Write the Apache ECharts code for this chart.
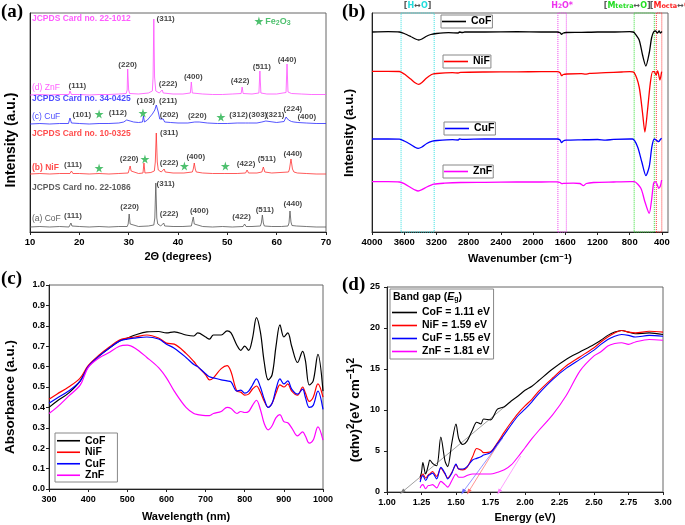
<!DOCTYPE html>
<html><head><meta charset="utf-8">
<script src="https://cdn.jsdelivr.net/npm/echarts@6/dist/echarts.min.js"></script>
<style>html,body{margin:0;padding:0;background:#fff}#main{width:685px;height:525px}</style>
</head><body><div id="main"></div>
<script>
const FONT = '"Liberation Sans", Arial, Helvetica, sans-serif';
const SERIF = '"Liberation Serif", "Times New Roman", serif';

// ---------- (a) XRD patterns: [2theta, intensity(arb)] ----------
const xrdCoF = [[10,5],[12,5.5],[14,5],[16,5.5],[17.9,5],[18.1,6],[18.3,9],[18.5,6],[18.7,5],[20,5.5],[22,5],[24,5.5],[26,5],[28,5.5],[29.7,5.5],[29.9,8],[30.1,18],[30.3,8],[30.5,6],[32,5.5],[34,6],[35.1,7],[35.3,14],[35.5,49],[35.7,14],[35.9,8],[36.5,6],[36.9,6],[37.1,9],[37.3,6],[39,5.5],[41,5.5],[42.7,6],[42.9,8],[43.1,15],[43.3,8],[43.5,6],[45,5.5],[47,5],[49,5.5],[51,5],[53.2,5.5],[53.5,8],[53.8,5.5],[55,5.5],[56.7,6],[56.9,9],[57.1,17],[57.3,9],[57.5,6],[59,5.5],[61,5.5],[62.3,6],[62.5,9],[62.7,21],[62.9,10],[63.1,6.5],[64,6],[66,5.5],[68,5],[70,5]];
const xrdNiF = [[10,58],[12,58.5],[14,58],[16,58.5],[18.1,58.5],[18.4,61],[18.7,58.5],[20,58.5],[22,58],[24,58.5],[26,58],[28,58.5],[29.9,59],[30.1,61],[30.3,66],[30.5,61],[30.7,59],[32,58.5],[32.9,59],[33.1,69],[33.3,59],[34.5,59.5],[35.2,61],[35.4,70],[35.6,99],[35.8,70],[36,62],[36.6,60],[37.0,60],[37.2,63],[37.4,60],[39,59],[41.2,59],[41.4,60],[41.6,59],[42.9,60],[43.1,63],[43.3,69],[43.5,63],[43.7,60],[45,59],[47,58.5],[49.5,58.5],[49.7,59.5],[49.9,58.5],[52,58.5],[53.7,59],[54.0,62],[54.3,59],[56,59],[57.0,60],[57.3,65],[57.6,60],[59,59],[62.4,60],[62.6,63],[62.9,73],[63.2,63],[63.5,60],[63.9,62],[64.2,59],[66,58.5],[68,58],[70,58]];
const xrdCuF = [[10,108],[12,108.5],[14,108],[16,108.5],[17.8,108.5],[18.1,114],[18.4,109],[20,108.5],[22,108],[24,108.5],[26,108.5],[28,109],[29,110],[29.6,112],[29.9,114],[30.3,111],[31,110],[32,109.5],[32.8,110],[33.0,116],[33.2,110],[33.8,112],[34.3,115],[34.8,118],[35.3,122],[35.6,127],[35.8,128],[36.0,120],[36.3,113],[36.7,111],[37.0,113],[37.3,110],[38.5,109.5],[40,109],[42,109],[43.4,110],[43.8,111.5],[44.3,110],[46,109],[48,108.5],[50,108.5],[52,109],[53.7,109],[54.0,111],[54.3,109],[56,109],[57.0,110],[57.4,109.5],[57.8,111],[58.2,109.5],[60,109.5],[61.5,110.5],[61.9,115],[62.1,117],[62.4,112],[63.0,110.5],[63.5,110],[63.9,111.5],[64.3,109.5],[66,109],[68,108.5],[70,108.5]];
const xrdZnF = [[10,137],[12,137.5],[14,137],[16,137.5],[17.9,137.5],[18.1,141],[18.4,137.5],[20,137.5],[22,137],[24,137.5],[26,137.5],[28,138],[29.5,138.5],[29.7,142],[29.8,163],[30.0,142],[30.2,138.5],[32,138],[34,139],[34.8,141],[34.95,155],[35.1,213],[35.25,155],[35.5,141],[36.2,139],[36.6,139],[36.8,142],[37.0,139],[39,138],[41,138],[42.5,139],[42.7,150],[42.9,139],[45,138],[47,137.5],[49,137.5],[51,138],[52.8,138.5],[53.0,145],[53.2,138.5],[55,138],[56.4,139],[56.6,161],[56.8,139],[58,138],[60,138],[61.9,139.5],[62.1,168],[62.3,140],[63,138.5],[65,138],[67,137.5],[70,137.5]];
const xrdHklLabels = [
  [37.5,213,'(311)'],[29.8,167,'(220)'],[19.6,146,'(111)'],[38.0,148,'(222)'],[43.1,155,'(400)'],[52.6,151,'(422)'],[57.0,165,'(511)'],[62.1,172,'(440)'],
  [33.5,131,'(103)'],[38.0,131,'(211)'],[20.5,117,'(101)'],[27.8,119,'(112)'],[38.2,117,'(202)'],[43.9,116,'(220)'],[52.3,117,'(312)'],[56.2,117,'(303)'],[59.7,117,'(321)'],[63.3,123,'(224)'],[66.1,115,'(400)'],
  [38.2,99,'(311)'],[30.1,73,'(220)'],[43.6,75,'(400)'],[18.7,67,'(111)'],[38.2,69,'(222)'],[53.8,68,'(422)'],[58.0,73,'(511)'],[63.3,78,'(440)'],
  [37.5,48,'(311)'],[30.2,25,'(220)'],[44.3,21,'(400)'],[18.7,16,'(111)'],[38.2,18,'(222)'],[52.9,15,'(422)'],[57.6,22,'(511)'],[63.3,28,'(440)']
];
const xrdCardLabels = [
  [10.3,213,'JCPDS Card no. 22-1012','ZnF'],[10.3,144,'(d) ZnF','ZnF'],
  [10.3,133,'JCPDS Card no. 34-0425','CuF'],[10.3,115,'(c) CuF','CuF'],
  [10.3,98,'JCPDS Card no. 10-0325','NiF'],[10.3,64,'(b) NiF','NiF'],
  [10.3,44,'JCPDS Card no. 22-1086','CoF'],[10.3,13,'(a) CoF','CoF']
];
const xrdStars = [[56.4,211],[24.0,118],[32.9,119],[48.7,115],[24.0,64],[33.3,73],[41.3,66],[49.6,66]];
const xrdFeLabel = [57.6,210];

// ---------- (b) FTIR: [wavenumber, transmittance(arb)] ----------
const ftirCoF = [[4000,200],[3800,200.3],[3660,200],[3600,198.5],[3520,195.5],[3460,193],[3420,192],[3380,193],[3330,195.5],[3270,197.5],[3200,198.5],[3050,199.3],[2930,199],[2915,200],[2880,199.5],[2850,200],[2600,200],[2200,200.3],[1900,200],[1700,200],[1665,199.3],[1646,197.7],[1625,199],[1590,199.5],[1400,199.6],[1200,200],[1000,200],[800,200.3],[760,200],[745,199.5],[683,192],[641,177],[600,166],[558,179],[529,194],[504,200],[480,201],[455,199],[435,201],[420,199],[400,200.5]];
const ftirNiF = [[4000,160.7],[3800,160.7],[3660,160.5],[3600,158],[3520,153],[3460,149],[3420,147.7],[3380,149.5],[3330,153.5],[3260,157.5],[3200,158.5],[3000,159.3],[2930,159],[2900,159.6],[2600,160],[2200,160.2],[1900,160.3],[1700,160.3],[1665,159.3],[1646,156.3],[1625,157.5],[1580,158],[1400,158.4],[1350,157.8],[1300,158.6],[1100,159.3],[900,160],[800,160.3],[745,159.3],[683,145],[641,119],[612,100],[579,122],[545,148.7],[516,160.3],[495,160.3],[474,157],[454,161],[425,152],[404,160.3]];
const ftirCuF = [[4000,93],[3800,93],[3660,92.8],[3600,91],[3520,87.5],[3460,84.5],[3427,83.7],[3380,85],[3320,88.5],[3250,90.8],[3190,91.5],[3000,92.3],[2930,92],[2915,93],[2880,92.6],[2600,93],[2200,93],[1900,93],[1700,93],[1665,92],[1646,89.3],[1625,91],[1590,91.8],[1400,92.2],[1200,92.5],[1100,91.8],[1000,92.6],[800,93],[765,93],[703,85.3],[649,69.7],[599,56.3],[558,65.3],[525,85.3],[495,93],[465,91.5],[441,90.3],[420,92.5],[404,93.7]];
const ftirZnF = [[4000,50.3],[3800,50.3],[3660,50],[3600,48.3],[3520,44.5],[3460,41.8],[3427,41],[3380,42.3],[3320,45],[3230,47.8],[3100,48.8],[2900,49.5],[2600,49.7],[2200,50],[1900,50],[1700,50.2],[1665,49.5],[1646,48.3],[1625,48.7],[1500,48.8],[1420,48.5],[1376,46.3],[1340,48.5],[1250,49.5],[1000,50],[800,50.3],[745,50.3],[662,43.7],[612,30.3],[558,18.7],[529,32],[504,48.7],[483,50.3],[460,47.5],[441,43.7],[420,46],[404,52]];
const ftirTicks = [4000,3600,3200,2800,2400,2000,1600,1200,800,400];
const ftirBandLimits = [[3639,3228],[1692,1587],[745,495],[470,402]];
const ftirBandLabels = ['{k|[}{c|H}{k|↔}{c|O}{k|]}','{m|H}{ms|2}{m|O*}','{k|[}{g|M}{gs|tetra}{k|↔}{g|O}{k|]}','{k|[}{r|M}{rs|octa}{k|↔}{r|O}{k|]}'];

// ---------- (c) UV-Vis absorbance ----------
const uvWl = [300,320,350,380,400,430,450,480,500,520,550,580,600,620,650,670,680,700,710,720,740,755,765,780,790,800,810,820,830,840,850,860,870,880,890,900,910,920,935,948,955,965,975,987,1000];
const uvCoF = [.40,.43,.47,.53,.60,.655,.685,.725,.74,.755,.77,.772,.765,.77,.755,.75,.765,.745,.735,.755,.755,.775,.765,.705,.68,.70,.68,.74,.84,.77,.62,.535,.56,.70,.805,.745,.765,.70,.62,.675,.63,.51,.53,.66,.48];
const uvNiF = [.44,.465,.50,.545,.605,.66,.69,.73,.74,.745,.755,.74,.715,.71,.665,.625,.60,.56,.535,.545,.59,.605,.575,.48,.475,.46,.465,.49,.505,.475,.43,.40,.42,.47,.51,.50,.515,.48,.46,.50,.47,.43,.45,.515,.45];
const uvCuF = [.42,.445,.48,.53,.60,.655,.685,.725,.735,.74,.745,.735,.71,.69,.645,.61,.60,.565,.55,.545,.535,.53,.525,.48,.485,.47,.48,.51,.54,.50,.44,.40,.42,.49,.54,.515,.53,.49,.465,.49,.45,.40,.41,.48,.39];
const uvZnF = [.37,.40,.455,.51,.595,.645,.665,.70,.705,.69,.645,.595,.545,.48,.40,.37,.365,.36,.36,.37,.38,.40,.395,.37,.38,.375,.38,.41,.435,.39,.32,.29,.31,.35,.365,.33,.325,.30,.26,.28,.26,.225,.24,.305,.24];

// ---------- (d) Tauc plot ----------
const taucE = [1.24,1.25,1.26,1.28,1.30,1.31,1.33,1.36,1.39,1.42,1.44,1.47,1.50,1.52,1.55,1.58,1.62,1.65,1.68,1.70,1.75,1.80,1.85,1.90,1.95,2.00,2.05,2.10,2.20,2.30,2.40,2.50,2.55,2.60,2.65,2.70,2.75,2.80,2.90,3.00];
const taucCoF = [1.8,2.4,3.6,2.2,3.3,3.9,3.5,3.2,6.7,3.8,3.1,6.0,8.3,6.5,5.8,6.2,7.6,8.5,8.3,8.9,8.8,10.1,10.4,11.1,11.7,12.4,12.9,13.6,15.0,16.2,17.1,18.0,18.5,19.1,19.5,19.7,19.5,19.3,19.4,19.2];
const taucNiF = [1.5,2.0,2.2,1.7,2.1,2.2,2.5,1.9,2.9,2.2,1.7,2.4,3.3,2.8,2.7,3.0,4.3,5.3,5.1,4.8,4.9,6.0,7.3,8.5,9.6,10.5,11.3,12.3,13.9,15.4,16.5,17.6,18.3,18.9,19.4,19.7,19.5,19.4,19.6,19.5];
const taucCuF = [1.2,1.8,2.0,1.4,2.0,2.1,2.3,1.6,3.0,2.3,1.6,2.3,3.4,2.8,2.8,3.1,3.9,4.1,4.3,4.5,4.8,5.9,7.0,8.2,9.3,10.1,11.0,12.0,13.7,15.1,16.2,17.3,18.0,18.6,19.0,19.2,19.1,18.9,19.1,19.0];
const taucZnF = [0.5,0.8,0.9,0.4,0.8,0.8,0.9,0.5,1.3,0.9,0.6,1.4,2.2,1.8,1.8,2.0,2.2,2.2,2.2,2.2,2.2,2.4,2.7,3.3,4.3,5.4,6.5,7.5,9.4,11.8,14.8,16.6,17.1,17.8,18.1,18.2,18.0,18.3,18.6,18.5];
const bandGapNames = ['CoF = 1.11 eV','NiF = 1.59 eV','CuF = 1.55 eV','ZnF = 1.81 eV'];
const taucFits = [[1.11,0,1.86,10.5],[1.59,0,1.84,6.8],[1.55,0,1.84,6.6],[1.81,0,1.97,4.4]];

// ---------- styles ----------
const samples = ['CoF','NiF','CuF','ZnF'];
const lineColors = {CoF:'#000000', NiF:'#ff0000', CuF:'#0000ff', ZnF:'#ff00ff'};
const xrdColors = {CoF:'#555555', NiF:'#ff3030', CuF:'#2a2aff', ZnF:'#ff4cff'};
const xrdTextColors = {CoF:'#333333', NiF:'#ff2020', CuF:'#2020ff', ZnF:'#ff33ff'};
const fitColors = ['#777777','#ff6666','#6666ff','#ff77ff'];
const fitRot = [130,150,148,149];
const STAR = 'path://M50,0 L61,35 L98,35 L68,57 L79,91 L50,70 L21,91 L32,57 L2,35 L39,35 Z';
const GREEN = '#22b04a';

const lbl = (size) => ({fontSize:size, fontWeight:'bold', color:'#000', fontFamily:FONT});
const axLine = {show:true, onZero:false, lineStyle:{color:'#222', width:1}};
const nameStyle = (size) => ({fontSize:size, fontWeight:'bold', color:'#000', fontFamily:FONT});
const plain = v => String(v);

const grids = [
  {left:30, top:13, width:296, height:219},
  {left:372, top:13, width:296, height:219},
  {left:49, top:285, width:274, height:204},
  {left:387, top:287, width:276, height:205}
].map(g => Object.assign(g, {show:true, borderColor:'#666', borderWidth:1, backgroundColor:'transparent'}));

const xAxes = [
  {gridIndex:0, type:'value', min:10, max:70, interval:10, axisLine:axLine,
   axisTick:{show:true, length:3, lineStyle:{color:'#222'}}, axisLabel:Object.assign({margin:5, formatter:plain}, lbl(9.5)),
   splitLine:{show:false}, name:'2Θ (degrees)', nameLocation:'middle', nameGap:19, nameTextStyle:nameStyle(11)},
  {gridIndex:1, type:'value', inverse:true, min:325, max:4000, axisLine:axLine,
   axisTick:{show:true, length:3, customValues:ftirTicks, lineStyle:{color:'#222'}},
   axisLabel:Object.assign({margin:5, customValues:ftirTicks, formatter:plain}, lbl(9.5)),
   splitLine:{show:false}, name:'Wavenumber (cm{sup|−1})', nameLocation:'middle', nameGap:21,
   nameTextStyle:Object.assign(nameStyle(11), {rich:{sup:{fontSize:8, fontWeight:'bold', fontFamily:FONT, color:'#000', verticalAlign:'top'}}})},
  {gridIndex:2, type:'value', min:300, max:1000, interval:100, axisLine:axLine,
   axisTick:{show:true, length:3, lineStyle:{color:'#222'}}, axisLabel:Object.assign({margin:6, formatter:plain}, lbl(9)),
   splitLine:{show:false}, name:'Wavelength (nm)', nameLocation:'middle', nameGap:22, nameTextStyle:nameStyle(11)},
  {gridIndex:3, type:'value', min:1, max:3, interval:0.25, axisLine:axLine,
   axisTick:{show:true, length:3, lineStyle:{color:'#222'}}, axisLabel:Object.assign({margin:6, formatter:v=>v.toFixed(2)}, lbl(9)),
   splitLine:{show:false}, name:'Energy (eV)', nameLocation:'middle', nameGap:20, nameTextStyle:nameStyle(11)}
];
const yAxes = [
  {gridIndex:0, type:'value', min:0, max:219, axisLine:axLine, axisTick:{show:false}, axisLabel:{show:false}, splitLine:{show:false}},
  {gridIndex:1, type:'value', min:0, max:219, axisLine:axLine, axisTick:{show:false}, axisLabel:{show:false}, splitLine:{show:false}},
  {gridIndex:2, type:'value', min:0, max:1, interval:0.1, axisLine:axLine,
   axisTick:{show:true, length:3, lineStyle:{color:'#222'}}, axisLabel:Object.assign({margin:4, formatter:v=>v.toFixed(1)}, lbl(9)), splitLine:{show:false}},
  {gridIndex:3, type:'value', min:0, max:25, interval:5, axisLine:axLine,
   axisTick:{show:true, length:3, lineStyle:{color:'#222'}}, axisLabel:Object.assign({margin:7, formatter:plain}, lbl(9)), splitLine:{show:false}}
];

const series = [];
// (a)
const xrdData = {CoF:xrdCoF, NiF:xrdNiF, CuF:xrdCuF, ZnF:xrdZnF};
samples.forEach(s => series.push({type:'line', name:s+' XRD', xAxisIndex:0, yAxisIndex:0, data:xrdData[s],
  symbol:'none', lineStyle:{width:0.8, color:xrdColors[s]}, itemStyle:{color:xrdColors[s]}, z:2}));
series.push({type:'scatter', name:'hkl', xAxisIndex:0, yAxisIndex:0, silent:true, clip:false, z:6,
  symbol:'circle', symbolSize:1, itemStyle:{color:'rgba(0,0,0,0)'},
  label:{show:true, position:'inside', formatter:'{b}', fontSize:8, fontWeight:'bold', color:'#111', fontFamily:FONT},
  data:xrdHklLabels.map(d => ({name:d[2], value:[d[0], d[1]]}))});
series.push({type:'scatter', name:'cards', xAxisIndex:0, yAxisIndex:0, silent:true, clip:false, z:6,
  symbol:'circle', symbolSize:1, itemStyle:{color:'rgba(0,0,0,0)'},
  label:{show:true, position:'right', distance:0, formatter:'{b}', fontSize:8.5, fontWeight:'bold', fontFamily:FONT},
  data:xrdCardLabels.map(d => ({name:d[2], value:[d[0], d[1]],
    label:{color:xrdTextColors[d[3]], fontWeight:(d[2].indexOf('JCPDS')===0 || d[3]==='NiF') ? 'bold' : 'normal'}}))});
series.push({type:'scatter', name:'Fe2O3 stars', xAxisIndex:0, yAxisIndex:0, silent:true, clip:false, z:7,
  symbol:STAR, symbolSize:9, itemStyle:{color:GREEN}, data:xrdStars});
series.push({type:'scatter', name:'Fe2O3 label', xAxisIndex:0, yAxisIndex:0, silent:true, clip:false, z:7,
  symbol:'circle', symbolSize:1, itemStyle:{color:'rgba(0,0,0,0)'},
  label:{show:true, position:'right', distance:0, formatter:'{a|Fe}{s|2}{a|O}{s|3}',
    rich:{a:{fontSize:9, fontWeight:'bold', color:GREEN, fontFamily:FONT},
          s:{fontSize:7, fontWeight:'bold', color:GREEN, fontFamily:FONT, verticalAlign:'bottom'}}},
  data:[xrdFeLabel]});

// (b)
const ftirData = {CoF:ftirCoF, NiF:ftirNiF, CuF:ftirCuF, ZnF:ftirZnF};
const bandColors = ['#33e0e0','#ee44ee','#33dd33','#ff3333'];
const bandOffsets = [[0,-2],[0,-2],[-17,-2],[13,-2]];
const richBase = (c, sz, va) => ({fontSize:sz, fontWeight:'bold', fontFamily:'"DejaVu Sans", ' + FONT, color:c, verticalAlign:va||'middle'});
samples.forEach((s,i) => {
  const sr = {type:'line', name:s, xAxisIndex:1, yAxisIndex:1, data:ftirData[s], smooth:0.25,
    symbol:'none', lineStyle:{width:1.3, color:lineColors[s]}, itemStyle:{color:lineColors[s]}, z:3};
  if (i === 0) {
    sr.markArea = {silent:true, z:1,
      itemStyle:{color:'rgba(0,0,0,0)', borderWidth:1, borderType:'dotted'},
      data:ftirBandLimits.map((b,k) => [
        {xAxis:b[0], itemStyle:{borderColor:bandColors[k]},
         label:{show:true, position:'top', distance:1, offset:bandOffsets[k], formatter:ftirBandLabels[k],
           rich:{k:richBase('#555',8), c:richBase('#22dddd',8), m:richBase('#ee33ee',8), ms:richBase('#ee33ee',6,'bottom'),
                 g:richBase('#22dd22',8), gs:richBase('#22dd22',6.5,'bottom'), r:richBase('#ff2222',8), rs:richBase('#ff2222',6.5,'bottom')}}},
        {xAxis:b[1]}])};
  }
  series.push(sr);
});

// (c)
const uvData = {CoF:uvCoF, NiF:uvNiF, CuF:uvCuF, ZnF:uvZnF};
samples.forEach(s => series.push({type:'line', name:s, xAxisIndex:2, yAxisIndex:2,
  data:uvWl.map((w,i) => [w, uvData[s][i]]), smooth:0.35,
  symbol:'none', lineStyle:{width:1.2, color:lineColors[s]}, itemStyle:{color:lineColors[s]}, z:3}));

// (d)
const taucData = {CoF:taucCoF, NiF:taucNiF, CuF:taucCuF, ZnF:taucZnF};
samples.forEach((s,i) => series.push({type:'line', name:bandGapNames[i], xAxisIndex:3, yAxisIndex:3,
  data:taucE.map((e,j) => [e, taucData[s][j]]), smooth:0.3,
  symbol:'none', lineStyle:{width:1.1, color:lineColors[s]}, itemStyle:{color:lineColors[s]}, z:3}));
taucFits.forEach((f,i) => series.push({type:'line', name:'fit'+i, xAxisIndex:3, yAxisIndex:3, silent:true,
  symbol:'circle', showSymbol:true, lineStyle:{width:0.7, color:fitColors[i]}, itemStyle:{color:fitColors[i]}, z:2,
  data:[{value:[f[0],f[1]], symbol:'triangle', symbolSize:[4,6], symbolRotate:fitRot[i]},
        {value:[f[2],f[3]], symbol:'none'}]}));

const legBase = {selectedMode:false, icon:'rect', itemWidth:24, itemHeight:1.6, borderColor:'#888', borderWidth:1,
  backgroundColor:'#fff', textStyle:{fontSize:10.5, fontWeight:'bold', fontFamily:FONT, color:'#000', lineHeight:11}};
const legends = [
  Object.assign({}, legBase, {data:['CoF'], left:441, top:15, padding:[1,1,1,1]}),
  Object.assign({}, legBase, {data:['NiF'], left:443, top:55, padding:[1,1,1,1]}),
  Object.assign({}, legBase, {data:['CuF'], left:444, top:122, padding:[1,1,1,1]}),
  Object.assign({}, legBase, {data:['ZnF'], left:443, top:165, padding:[1,1,1,1]}),
  Object.assign({}, legBase, {data:samples, orient:'vertical', left:55, top:433, padding:[2,12,1,2], itemGap:0, itemWidth:23,
    textStyle:{fontSize:10.5, fontWeight:'bold', fontFamily:FONT, color:'#000', lineHeight:11.5}}),
  Object.assign({}, legBase, {data:bandGapNames, orient:'vertical', left:390, top:289, padding:[17,3,1,2], itemGap:0, itemWidth:25,
    textStyle:{fontSize:10.5, fontWeight:'bold', fontFamily:FONT, color:'#000', lineHeight:13}})
];

const gtext = (txt, x, y, opts) => Object.assign({type:'text', x:x, y:y, silent:true, z:100,
  style:Object.assign({text:txt, fill:'#000', fontFamily:FONT, fontWeight:'bold', fontSize:12, align:'left', verticalAlign:'top'}, opts||{})});
const graphics = [
  gtext('(a)', 1, 3, {fontFamily:SERIF, fontSize:19}),
  gtext('(b)', 342, 3, {fontFamily:SERIF, fontSize:19}),
  gtext('(c)', 1, 270, {fontFamily:SERIF, fontSize:19}),
  gtext('(d)', 342, 276, {fontFamily:SERIF, fontSize:19}),
  Object.assign(gtext('Intensity (a.u.)', 11, 140, {fontSize:14, align:'center', verticalAlign:'middle'}), {rotation:Math.PI/2}),
  Object.assign(gtext('Intensity (a.u.)', 349, 133, {fontSize:13, align:'center', verticalAlign:'middle'}), {rotation:Math.PI/2}),
  Object.assign(gtext('Absorbance (a.u.)', 10, 397, {fontSize:13.5, align:'center', verticalAlign:'middle'}), {rotation:Math.PI/2}),
  Object.assign(gtext('{m|(αhν)}{s|2}{m|(eV cm}{s|−1}{m|)}{s|2}', 355, 410, {align:'center', verticalAlign:'middle',
    rich:{m:{fontSize:13.5, fontWeight:'bold', fontFamily:FONT, fill:'#000', lineHeight:18}, s:{fontSize:10, fontWeight:'bold', fontFamily:FONT, fill:'#000', verticalAlign:'top'}}}), {rotation:Math.PI/2}),
  gtext('Band gap ({m|E}{s|g})', 393, 292, {fontSize:10.5,
    rich:{m:{fontSize:10.5, fontWeight:'bold', fontStyle:'italic', fontFamily:FONT, fill:'#000'}, s:{fontSize:7, fontWeight:'bold', fontFamily:FONT, fill:'#000', verticalAlign:'bottom'}}})
];

const chart = echarts.init(document.getElementById('main'), null, {renderer:'canvas'});
chart.setOption({
  animation:false, backgroundColor:'#fff',
  grid:grids, xAxis:xAxes, yAxis:yAxes, legend:legends, series:series, graphic:graphics
});
</script></body></html>
